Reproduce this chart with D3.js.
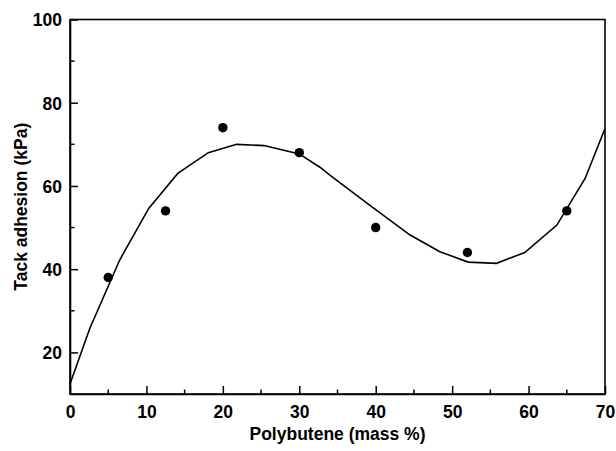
<!DOCTYPE html>
<html>
<head>
<meta charset="utf-8">
<script src="https://cdn.jsdelivr.net/npm/d3@7"></script>
<style>
  body { margin: 0; background: #fff; }
  svg text { font-family: "Liberation Sans", Arial, sans-serif; font-weight: bold; fill: #000; }
</style>
</head>
<body>
<svg id="chart" width="616" height="451"></svg>
<script>
// measured points
const pbX = [5, 12.5, 20, 30, 40, 52, 65];
const tackY = [38, 54, 74, 68, 50, 44, 54];

// fitted curve
const fitX = [0, 2.6, 6.5, 10.3, 14.1, 18.1, 21.8, 25.4, 30, 32.7, 34, 39.2, 44.5, 48.4, 52.1, 55.8, 59.5, 63.7, 67.4, 70];
const fitY = [12.4, 25.8, 42.2, 54.6, 63, 68, 70, 69.7, 67.7, 64.5, 62.6, 55.4, 48.2, 44.2, 41.7, 41.4, 44, 50.6, 61.8, 73.8];

const xTicks = [0, 10, 20, 30, 40, 50, 60, 70];
const yTicks = [20, 40, 60, 80, 100];
const xMinor = [5, 15, 25, 35, 45, 55, 65];
const yMinor = [30, 50, 70, 90];

const margin = {left: 70, top: 19.5, right: 11, bottom: 57};
const width = 616, height = 451;

const svg = d3.select("#chart");
const x = d3.scaleLinear().domain([0, 70]).range([margin.left, width - margin.right]);
const y = d3.scaleLinear().domain([10, 100]).range([height - margin.bottom, margin.top]);

// frame
svg.append("rect")
  .attr("x", x(0)).attr("y", y(100))
  .attr("width", x(70) - x(0)).attr("height", y(10) - y(100))
  .attr("fill", "none").attr("stroke", "#000").attr("stroke-width", 1.6);

// x axis, ticks pointing inward
const xAxis = svg.append("g").attr("transform", "translate(0," + y(10) + ")");
xAxis.call(d3.axisBottom(x).tickValues(xTicks).tickSizeInner(-8).tickSizeOuter(0).tickPadding(12));
xAxis.selectAll(".minor").data(xMinor).enter().append("line")
  .attr("x1", d => x(d)).attr("x2", d => x(d))
  .attr("y1", 0).attr("y2", -4.5)
  .attr("stroke", "#000").attr("stroke-width", 1.5);

// y axis
const yAxis = svg.append("g").attr("transform", "translate(" + x(0) + ",0)");
yAxis.call(d3.axisLeft(y).tickValues(yTicks).tickSizeInner(-8).tickSizeOuter(0).tickPadding(8));
yAxis.selectAll(".minor").data(yMinor).enter().append("line")
  .attr("x1", 0).attr("x2", 4.5)
  .attr("y1", d => y(d)).attr("y2", d => y(d))
  .attr("stroke", "#000").attr("stroke-width", 1.5);

svg.selectAll(".domain").attr("stroke", "#000").attr("stroke-width", 1.6);
svg.selectAll(".tick line").attr("stroke", "#000").attr("stroke-width", 1.5);
svg.selectAll(".tick text").attr("font-size", 17.5).attr("font-family", "Liberation Sans, Arial, sans-serif").attr("font-weight", "bold");
yAxis.selectAll(".tick text").attr("dy", "0.36em");

// fitted curve
const fit = fitX.map((d, i) => [d, fitY[i]]);
svg.append("path")
  .datum(fit)
  .attr("fill", "none").attr("stroke", "#000").attr("stroke-width", 1.6)
  .attr("d", d3.line().x(d => x(d[0])).y(d => y(d[1])));

// data points
svg.selectAll(".pt").data(pbX).enter().append("circle")
  .attr("cx", d => x(d))
  .attr("cy", (d, i) => y(tackY[i]))
  .attr("r", 4.7)
  .attr("fill", "#000");

// titles
svg.append("text")
  .attr("x", (x(0) + x(70)) / 2).attr("y", 440)
  .attr("text-anchor", "middle").attr("font-size", 17.5)
  .text("Polybutene (mass %)");

svg.append("text")
  .attr("transform", "translate(27," + ((y(10) + y(100)) / 2) + ") rotate(-90)")
  .attr("text-anchor", "middle").attr("font-size", 17.5)
  .text("Tack adhesion (kPa)");
</script>
</body>
</html>
